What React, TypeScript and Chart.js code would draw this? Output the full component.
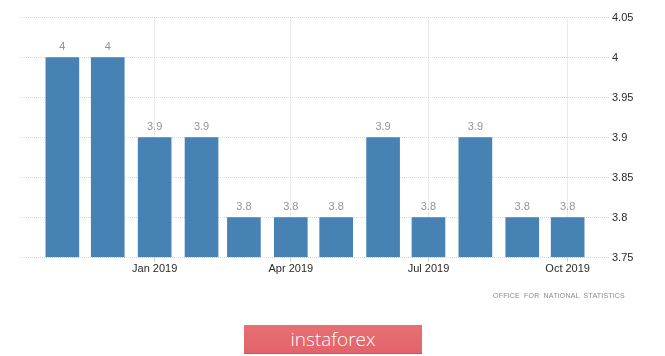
import React, { useEffect, useRef } from "react";
import { Chart, registerables } from "chart.js";

Chart.register(...registerables);

const months = [
  "2018-11-01", "2018-12-01", "2019-01-01", "2019-02-01", "2019-03-01", "2019-04-01",
  "2019-05-01", "2019-06-01", "2019-07-01", "2019-08-01", "2019-09-01", "2019-10-01",
];
const values = [4, 4, 3.9, 3.9, 3.8, 3.8, 3.8, 3.9, 3.8, 3.9, 3.8, 3.8];
const tickDates = ["2019-01-01", "2019-04-01", "2019-07-01", "2019-10-01"];
const tickLabels = ["Jan 2019", "Apr 2019", "Jul 2019", "Oct 2019"];
const xRange = ["2018-10-04", "2019-10-29"];
const yMin = 3.75;
const yMax = 4.05;
const yStep = 0.05;
const sourceText = "OFFICE FOR NATIONAL STATISTICS";
const brandText = "instaforex";

const DAY = 86400000;
const toDay = (s: string) => Date.parse(s + "T00:00:00Z") / DAY;

const valueLabels = {
  id: "valueLabels",
  afterDatasetsDraw(chart: any) {
    const ctx = chart.ctx;
    const meta = chart.getDatasetMeta(0);
    ctx.save();
    ctx.font = '11px "Liberation Sans", Arial, sans-serif';
    ctx.fillStyle = "#949494";
    ctx.textAlign = "center";
    ctx.textBaseline = "middle";
    meta.data.forEach((el: any, i: number) => {
      ctx.fillText(String(values[i]), el.x, el.y - 11);
    });
    ctx.restore();
  },
};

export default function App() {
  const ref = useRef<HTMLCanvasElement | null>(null);

  useEffect(() => {
    if (!ref.current) return;
    const data = months.map((m, i) => ({ x: toDay(m), y: values[i] }));
    const tickVals = tickDates.map(toDay);
    const chart = new Chart(ref.current, {
      type: "bar",
      data: {
        datasets: [
          {
            data: data as any,
            backgroundColor: "#4682b4",
            borderWidth: 0,
            barThickness: 33,
            base: yMin,
          } as any,
        ],
      },
      options: {
        animation: false,
        responsive: false,
        maintainAspectRatio: false,
        layout: { padding: { left: 20, top: 17.5, right: 0, bottom: 0 } },
        plugins: {
          legend: { display: false },
          tooltip: { enabled: false },
        },
        scales: {
          x: {
            type: "linear",
            offset: false,
            min: toDay(xRange[0]),
            max: toDay(xRange[1]),
            afterBuildTicks(scale: any) {
              scale.ticks = tickVals.map((v) => ({ value: v }));
            },
            afterFit(scale: any) {
              scale.height = 98.5;
            },
            ticks: {
              autoSkip: false,
              maxRotation: 0,
              padding: 1,
              color: "#2a2a2a",
              font: { family: '"Liberation Sans", Arial, sans-serif', size: 11 },
              callback: (v: any) => {
                const idx = tickVals.indexOf(Number(v));
                return idx >= 0 ? tickLabels[idx] : "";
              },
            },
            grid: {
              offset: false,
              color: "#d6d6d6",
              lineWidth: 1,
              tickLength: 4,
              tickColor: "#cfcfcf",
              tickBorderDash: [],
            },
            border: { display: false, dash: [1, 1] },
          },
          y: {
            position: "right",
            min: yMin,
            max: yMax,
            afterFit(scale: any) {
              scale.width = 55;
            },
            ticks: {
              stepSize: yStep,
              padding: 2,
              color: "#2a2a2a",
              font: { family: '"Liberation Sans", Arial, sans-serif', size: 11 },
              callback: (v: any) => String(parseFloat(Number(v).toFixed(2))),
            },
            grid: {
              color: "#d6d6d6",
              lineWidth: 1,
              drawTicks: false,
              tickLength: 0,
            },
            border: { display: false, dash: [1, 1] },
          },
        },
      },
      plugins: [valueLabels],
    });
    return () => chart.destroy();
  }, []);

  return (
    <div
      style={{
        position: "fixed",
        left: 0,
        top: 0,
        width: 665,
        height: 356,
        background: "#ffffff",
        overflow: "hidden",
      }}
    >
      <canvas ref={ref} width={665} height={356} style={{ position: "absolute", left: 0, top: 0, width: 665, height: 356 }} />
      <div
        style={{
          position: "absolute",
          right: 40,
          top: 291,
          fontFamily: '"Liberation Sans", Arial, sans-serif',
          fontSize: 7,
          letterSpacing: 0.2,
          wordSpacing: 2,
          color: "#8a8a8a",
          whiteSpace: "nowrap",
          lineHeight: "10px",
        }}
      >
        {sourceText}
      </div>
      <div
        style={{
          position: "absolute",
          left: 244,
          top: 325,
          width: 178,
          height: 29,
          background: "linear-gradient(#e76f72, #e2646a)",
          borderBottom: "1px solid #c95459",
          boxSizing: "border-box",
          display: "flex",
          alignItems: "center",
          justifyContent: "center",
          color: "#ffffff",
          fontFamily: '"Open Sans", sans-serif',
          fontWeight: 300,
          fontSize: 19,
          lineHeight: "29px",
        }}
      >
        {brandText}
      </div>
    </div>
  );
}
